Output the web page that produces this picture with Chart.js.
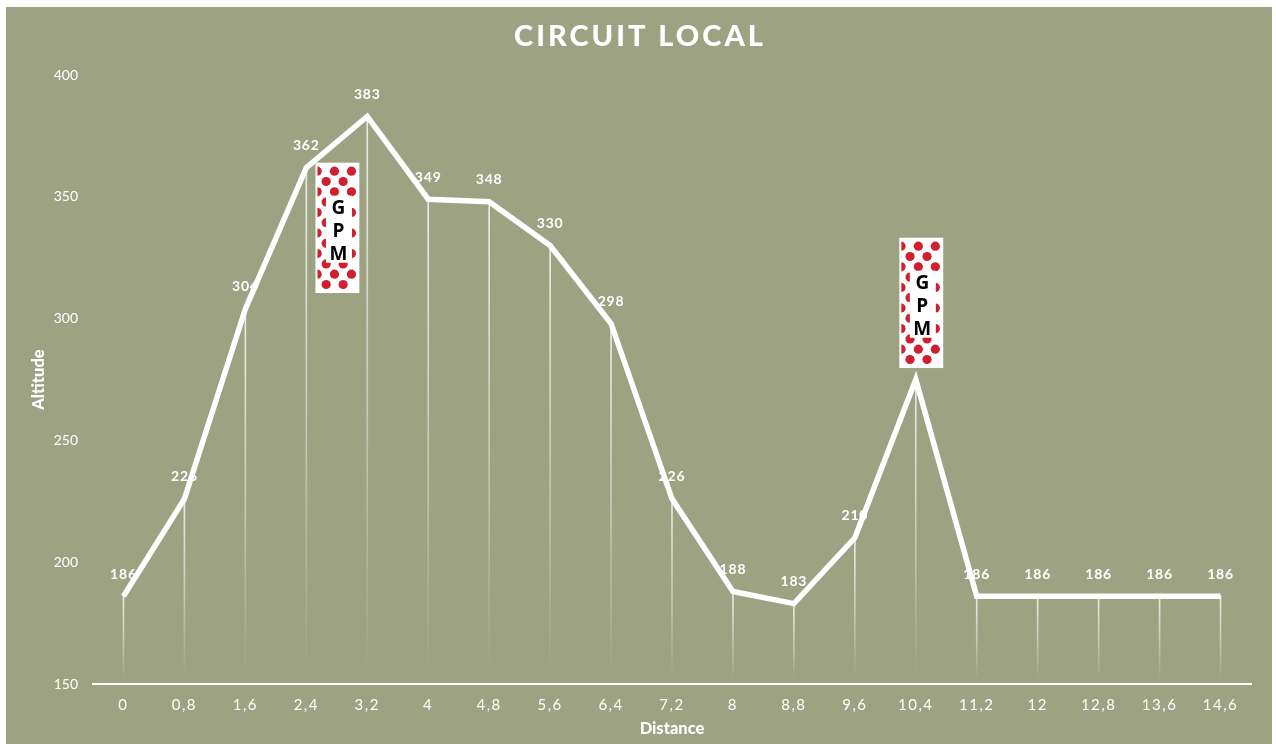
<!DOCTYPE html>
<html>
<head>
<meta charset="utf-8">
<title>Circuit local</title>
<script src="https://cdn.jsdelivr.net/npm/chart.js@4"></script>
<style>
    html, body { margin: 0; padding: 0; background: #fff; overflow: hidden; }
    #panel { position: absolute; left: 6px; top: 7px; width: 1266px; height: 737px; background: #9da283; }
    #chart { position: absolute; left: 0; top: 0; }
</style>
</head>
<body>
<div id="panel"></div>
<canvas id="chart" width="1276" height="744"></canvas>
<script>
const distances = ['0', '0,8', '1,6', '2,4', '3,2', '4', '4,8', '5,6', '6,4', '7,2', '8', '8,8', '9,6', '10,4', '11,2', '12', '12,8', '13,6', '14,6'];
const altitudes = [186, 226, 304, 362, 383, 349, 348, 330, 298, 226, 188, 183, 210, 275, 186, 186, 186, 186, 186];

// GPM badges, placed in axis units (category index / altitude)
const gpmLeft = [3.15, 12.73];
const gpmRight = [3.87, 13.45];
const gpmTop = [364, 333.2];
const gpmBottom = [310.5, 279.7];
const gpmLetters = ['G', 'P', 'M'];

const FONT = 'Lato, sans-serif';
const WHITE = '#ffffff';

// Fading drop line under each point
function dropGradient(context) {
    const chart = context.chart;
    if (!chart.chartArea || context.raw === undefined) return 'rgba(255,255,255,0.7)';
    const top = chart.scales.y.getPixelForValue(context.raw);
    const g = chart.ctx.createLinearGradient(0, top, 0, chart.chartArea.bottom - 4);
    g.addColorStop(0, 'rgba(255,255,255,0.8)');
    g.addColorStop(0.5, 'rgba(255,255,255,0.45)');
    g.addColorStop(1, 'rgba(255,255,255,0)');
    return g;
}

// Values above the points, drawn under the line as in the original
const valueLabels = {
    id: 'valueLabels',
    beforeDatasetsDraw(chart) {
        const { ctx, scales } = chart;
        ctx.save();
        ctx.letterSpacing = '0.8px';
        ctx.font = 'bold 14px ' + FONT;
        ctx.fillStyle = WHITE;
        ctx.textAlign = 'center';
        ctx.textBaseline = 'middle';
        altitudes.forEach((v, i) => {
            ctx.fillText(String(v), scales.x.getPixelForValue(i), scales.y.getPixelForValue(v) - 22);
        });
        ctx.restore();
    }
};

// White box with red polka dots and the GPM letters
const gpmBadges = {
    id: 'gpmBadges',
    afterDatasetsDraw(chart) {
        const { ctx, scales } = chart;
        gpmLeft.forEach((left, b) => {
            const x = scales.x.getPixelForValue(left);
            const w = scales.x.getPixelForValue(gpmRight[b]) - x;
            const y = scales.y.getPixelForValue(gpmTop[b]);
            const h = scales.y.getPixelForValue(gpmBottom[b]) - y;
            ctx.save();
            ctx.fillStyle = WHITE;
            ctx.fillRect(x, y, w, h);
            ctx.beginPath();
            ctx.rect(x + 2, y + 2, w - 4, h - 4);
            ctx.clip();
            ctx.fillStyle = '#cf2030';
            for (let row = 0; row < 12; row++) {
                const cols = row % 2 === 0 ? [1.7, 19, 36] : [10.7, 27.7];
                cols.forEach(cx => {
                    ctx.beginPath();
                    ctx.arc(x + cx, y + 8.5 + row * 10.3, 4.6, 0, Math.PI * 2);
                    ctx.fill();
                });
            }
            // clear middle column behind the letters
            ctx.fillStyle = WHITE;
            ctx.fillRect(x + 10.5, y + 33, 26, 67);
            ctx.fillStyle = '#000000';
            ctx.font = 'bold 19px "Open Sans", sans-serif';
            ctx.textAlign = 'center';
            ctx.textBaseline = 'middle';
            gpmLetters.forEach((letter, i) => {
                ctx.fillText(letter, x + w / 2 + 1, y + 45.5 + i * 23);
            });
            ctx.restore();
        });
    }
};

// Chart.js has no letter spacing option, so wrap the text drawing of each box
function spaced(ctx, box, method, px) {
    const original = box[method];
    box[method] = function (...args) {
        ctx.letterSpacing = px;
        original.apply(this, args);
        ctx.letterSpacing = '0px';
    };
}

const letterSpacing = {
    id: 'letterSpacing',
    done: false,
    beforeDraw(chart) {
        if (this.done) return;
        this.done = true;
        spaced(chart.ctx, chart.titleBlock, 'draw', '3px');
        spaced(chart.ctx, chart.scales.x, 'drawLabels', '1.5px');
    }
};

new Chart(document.getElementById('chart').getContext('2d'), {
    data: {
        labels: distances,
        datasets: [
            {
                type: 'line',
                data: altitudes,
                borderColor: WHITE,
                borderWidth: 5.5,
                borderJoinStyle: 'miter',
                borderCapStyle: 'butt',
                pointRadius: 0,
                tension: 0,
                order: 0
            },
            {
                type: 'bar',
                data: altitudes,
                backgroundColor: dropGradient,
                barThickness: 1,
                order: 1
            }
        ]
    },
    options: {
        responsive: false,
        animation: false,
        layout: { padding: { left: 29, right: 25, top: 0, bottom: 5 } },
        plugins: {
            legend: { display: false },
            tooltip: { enabled: false },
            title: {
                display: true,
                text: 'CIRCUIT LOCAL',
                color: WHITE,
                font: { family: FONT, size: 29, weight: '900' },
                padding: { top: 19, bottom: 21.2 }
            }
        },
        scales: {
            x: {
                grid: { display: false },
                border: { display: true, color: WHITE, width: 2 },
                ticks: { color: WHITE, font: { family: FONT, size: 15 }, padding: 4, maxRotation: 0, autoSkip: false },
                title: { display: true, text: 'Distance', color: WHITE, font: { family: FONT, size: 16.5, weight: '900' }, padding: 0 },
                afterFit(scale) { scale.height = 55; }
            },
            y: {
                min: 150,
                max: 400,
                grid: { display: false },
                border: { display: false },
                ticks: { stepSize: 50, color: WHITE, font: { family: FONT, size: 14 }, padding: 7 },
                title: { display: true, text: 'Altitude', color: WHITE, font: { family: FONT, size: 16.5, weight: '900' }, padding: 0 },
                afterFit(scale) { scale.width = 64; }
            }
        }
    },
    plugins: [letterSpacing, valueLabels, gpmBadges]
});
</script>
</body>
</html>
